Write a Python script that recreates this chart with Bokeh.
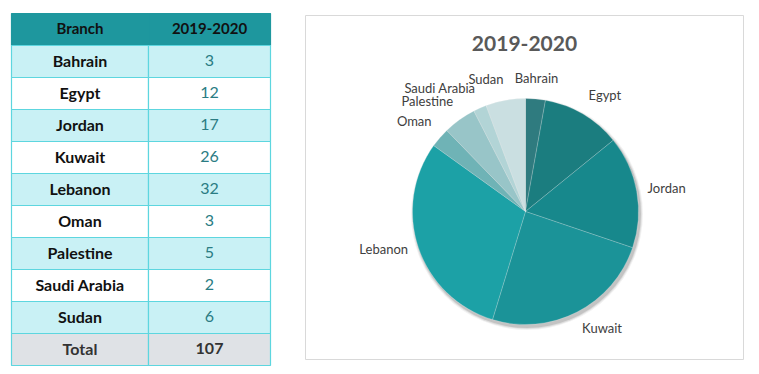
import numpy as np
from bokeh.plotting import figure
from bokeh.models import Range1d, ColumnDataSource
from bokeh.embed import file_html
from bokeh.resources import INLINE
from bokeh.core.properties import value

# ---------------- data ----------------
branches = ["Bahrain", "Egypt", "Jordan", "Kuwait", "Lebanon", "Oman",
            "Palestine", "Saudi Arabia", "Sudan"]
counts = [3, 12, 17, 26, 32, 3, 5, 2, 6]
total_text = "107"
header = ["Branch", "2019-2020"]
chart_title = "2019-2020"
slice_colors = ["#2f7b7f", "#1b7d7f", "#17888c", "#1b9398", "#1ca1a6",
                "#6fb3b6", "#98c5c8", "#b2d4d6", "#cadfe1"]

# ---------------- layout (page pixels) ----------------
W, H = 751, 368
def X(px):
    return px
def Y(py):
    return H - py

FONT = "Lato"

p = figure(width=W, height=H, x_range=Range1d(0, W), y_range=Range1d(0, H),
           output_backend="svg", toolbar_location=None, min_border=0)
p.axis.visible = False
p.xgrid.visible = False
p.ygrid.visible = False
p.outline_line_color = None
p.background_fill_color = "white"
p.border_fill_color = "white"

# ---------------- table ----------------
tx = [11, 148, 270]
ty0, rh = 13, 32
rows_names = [header[0]] + branches + ["Total"]
rows_vals = [header[1]] + [str(c) for c in counts] + [total_text]
n = len(rows_names)

fills = []
for i in range(n):
    if i == 0:
        fills.append("#1e979e")
    elif i == n - 1:
        fills.append("#dfe2e6")
    elif i % 2 == 1:
        fills.append("#c9f1f5")
    else:
        fills.append("#ffffff")

left, right, top, bottom, fc, lc = [], [], [], [], [], []
for i in range(n):
    for c in range(2):
        left.append(X(tx[c])); right.append(X(tx[c + 1]))
        top.append(Y(ty0 + i * rh)); bottom.append(Y(ty0 + (i + 1) * rh))
        fc.append(fills[i])
        lc.append("#1e979e" if i == 0 else "#5dd6df")
p.quad(left=left, right=right, top=top, bottom=bottom, fill_color=fc,
       line_color=lc, line_width=1.2)

cx0 = X((tx[0] + tx[1]) / 2)
cx1 = X((tx[1] + tx[2]) / 2)
ys = [Y(ty0 + i * rh + rh / 2 - 1.5) for i in range(n)]

for i in range(n):
    size = "15px" if i == 0 else "16px"
    col = "#333333" if i == n - 1 else "#111111"
    p.text(x=[cx0], y=[ys[i]], text=[rows_names[i]], text_align="center",
           text_baseline="middle", text_font=value(FONT),
           text_font_style="bold", text_font_size=size, text_color=col)

for i in range(n):
    if i == 0:
        col, sty, size = "#111111", "bold", "15px"
    elif i == n - 1:
        col, sty, size = "#333333", "bold", "16px"
    else:
        col, sty, size = "#2a7c83", "normal", "16px"
    p.text(x=[cx1], y=[ys[i]], text=[rows_vals[i]], text_align="center",
           text_baseline="middle", text_font=value(FONT),
           text_font_style=sty, text_font_size=size, text_color=col)

# ---------------- chart box ----------------
p.quad(left=[X(305)], right=[X(743)], top=[Y(15)], bottom=[Y(359)],
       fill_color="white", line_color="#d9d9d9", line_width=1)
p.text(x=[X(524)], y=[Y(43)], text=[chart_title], text_align="center",
       text_baseline="middle", text_font=value(FONT), text_font_style="bold",
       text_font_size="21px", text_color="#595959")

# ---------------- pie ----------------
pcx, pcy, r = X(525), Y(211), 113
vals = np.array(counts, dtype=float)
tot = vals.sum()
cum_after = np.cumsum(vals)
cum_before = cum_after - vals
a_end = np.pi / 2 - 2 * np.pi * cum_before / tot
a_start = np.pi / 2 - 2 * np.pi * cum_after / tot

# soft shadow
for dr, al in [(3, 0.05), (2, 0.08), (1, 0.12)]:
    p.circle(x=[pcx + 1.5], y=[pcy - 2.5], radius=r + dr, fill_color="black",
             fill_alpha=al, line_color=None)

src = ColumnDataSource(dict(start=a_start, end=a_end, color=slice_colors))
p.wedge(x=pcx, y=pcy, radius=r, start_angle="start", end_angle="end",
        fill_color="color", line_color="white", line_alpha=0.25,
        line_width=0.8, source=src)

# labels
mid_frac = (cum_before + vals / 2) / tot
R = r + 11
for name, f in zip(branches, mid_frac):
    th = 2 * np.pi * f
    s, c = np.sin(th), np.cos(th)
    lx = pcx + R * s
    ly = pcy + R * c
    if abs(s) < 0.15:
        align = "center"
    elif s > 0:
        align = "left"
    else:
        align = "right"
    if c > 0.5:
        base = "bottom"
    elif c < -0.5:
        base = "top"
    else:
        base = "middle"
    p.text(x=[lx], y=[ly + 2], text=[name], text_align=align,
           text_baseline=base, text_font=value(FONT),
           text_font_size="13px", text_color="#404040")

open("out.html", "w").write(file_html(p, INLINE))
